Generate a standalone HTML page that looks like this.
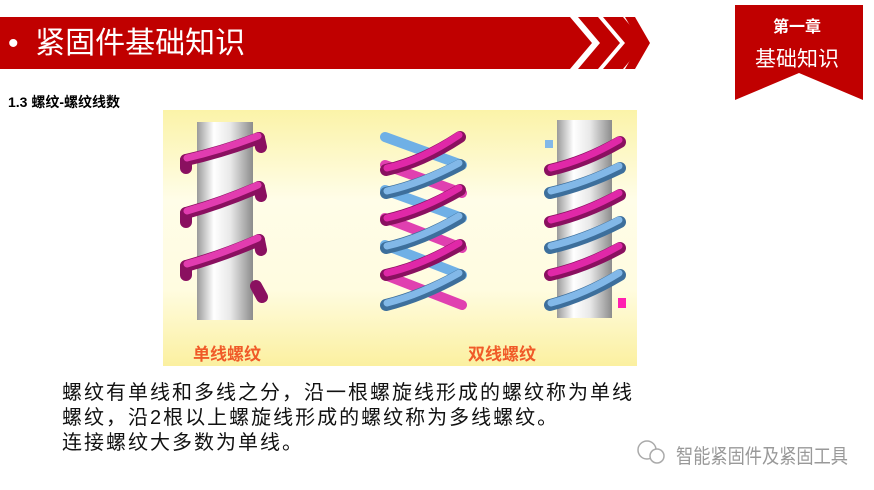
<!DOCTYPE html>
<html><head><meta charset="utf-8"><style>
body{margin:0;width:874px;height:490px;background:#fff;overflow:hidden;position:relative;font-family:"Liberation Sans","Noto Sans CJK SC",sans-serif}
.t{position:absolute;white-space:nowrap}
</style></head><body>
<svg width="874" height="490" style="position:absolute;left:0;top:0">
<defs>
<linearGradient id="bg" x1="0" y1="0" x2="0" y2="1">
<stop offset="0" stop-color="#fbf3a8"/><stop offset="0.35" stop-color="#fffde8"/><stop offset="0.7" stop-color="#fffce0"/><stop offset="1" stop-color="#fbf0a0"/></linearGradient>
<linearGradient id="cyl" x1="0" y1="0" x2="1" y2="0">
<stop offset="0" stop-color="#9a9a9a"/><stop offset="0.3" stop-color="#ffffff"/><stop offset="0.6" stop-color="#e8e8e8"/><stop offset="1" stop-color="#8c8c8c"/></linearGradient>
</defs>
<polygon points="0,17 570,17 592,43 570,69 0,69" fill="#c00000"/>
<polygon points="578,17 598,17 620,43 598,69 578,69 600,43" fill="#c00000"/>
<polygon points="603,17 623,17 645,43 623,69 603,69 625,43" fill="#c00000"/>
<polygon points="625,17 635,17 650,43 635,69 625,69 640,43" fill="#c00000"/>
<polygon points="735,5 863,5 863,100 799,73 735,100" fill="#c00000"/>
<rect x="163" y="110" width="474" height="256" fill="url(#bg)"/>
<!-- single -->
<rect x="197" y="122" width="56" height="198" fill="url(#cyl)"/>
<g fill="none" stroke-linecap="round">
<g stroke="#8a1060" stroke-width="12">
<path d="M186 160 Q222 152 259 138"/><path d="M186 213 Q222 203 259 187"/><path d="M186 266 Q222 256 259 240"/><path d="M259 138 L261 147"/><path d="M259 187 L261 196"/><path d="M259 240 L261 250"/><path d="M186 160 L186 168"/><path d="M186 213 L186 222"/><path d="M186 266 L186 275"/><path d="M256 286 L262 297"/>
</g>
<g stroke="#e23cb0" stroke-width="7">
<path d="M187 158 Q222 150 258 136"/><path d="M187 211 Q222 201 258 185"/><path d="M187 264 Q222 254 258 238"/>
</g></g>
<!-- double -->
<g fill="none" stroke-width="10" stroke-linecap="round">
<g stroke="#6fb0e6"><path d="M385 137 L462 165"/><path d="M385 190 L462 218"/><path d="M385 245 L462 275"/></g>
<g stroke="#e040b0"><path d="M385 165 L462 193"/><path d="M385 218 L462 248"/><path d="M385 275 L462 305"/></g>
<g stroke="#3d6f9c" stroke-width="12"><path d="M386 193 Q422 185 460 165"/><path d="M386 248 Q422 240 460 218"/><path d="M386 305 Q422 296 460 275"/></g>
<g stroke="#82b8e8" stroke-width="7"><path d="M387 191 Q422 183 459 163"/><path d="M387 246 Q422 238 459 216"/><path d="M387 303 Q422 294 459 273"/></g>
<g stroke="#8a1060" stroke-width="12"><path d="M386 170 Q422 162 460 137"/><path d="M386 220 Q422 212 460 190"/><path d="M386 275 Q422 267 460 245"/></g>
<g stroke="#e028a8" stroke-width="7"><path d="M387 168 Q422 160 459 135"/><path d="M387 218 Q422 210 459 188"/><path d="M387 273 Q422 265 459 243"/></g>
</g>
<!-- third -->
<rect x="557" y="120" width="55" height="198" fill="url(#cyl)"/>
<g fill="none" stroke-linecap="round">
<g stroke="#3d6f9c" stroke-width="12"><path d="M550 193 Q585 185 620 168"/><path d="M550 248 Q585 240 620 222"/><path d="M550 305 Q585 296 620 275"/></g>
<g stroke="#82b8e8" stroke-width="7"><path d="M551 191 Q585 183 619 166"/><path d="M551 246 Q585 238 619 220"/><path d="M551 303 Q585 294 619 273"/></g>
<g stroke="#8a1060" stroke-width="12"><path d="M550 170 Q585 162 620 142"/><path d="M550 222 Q585 214 620 195"/><path d="M550 275 Q585 267 620 248"/></g>
<g stroke="#e028a8" stroke-width="7"><path d="M551 168 Q585 160 619 140"/><path d="M551 220 Q585 212 619 193"/><path d="M551 273 Q585 265 619 246"/></g>
</g>
<rect x="545" y="140" width="8" height="8" fill="#82b8e8"/>
<rect x="618" y="298" width="8" height="10" fill="#ff20b0"/>
<circle cx="647" cy="450" r="9" fill="none" stroke="#aaa" stroke-width="1.5"/>
<circle cx="657" cy="456" r="7" fill="#fff" stroke="#aaa" stroke-width="1.5"/>
</svg>
<div class="t" style="left:8px;top:22px;color:#fff;font-size:30px;line-height:44px">•&nbsp;&nbsp;紧固件基础知识</div>
<div class="t" style="left:773px;top:13px;color:#fff;font-size:16px;font-weight:bold">第一章</div>
<div class="t" style="left:755px;top:43px;color:#fff;font-size:21px">基础知识</div>
<div class="t" style="left:8px;top:92px;color:#000;font-size:14px;font-weight:bold">1.3 螺纹-螺纹线数</div>
<div class="t" style="left:193px;top:340px;color:#f05a28;font-size:17px;font-weight:bold">单线螺纹</div>
<div class="t" style="left:468px;top:340px;color:#f05a28;font-size:17px;font-weight:bold">双线螺纹</div>
<div class="t" style="left:62px;top:381px;color:#111;font-size:20px;line-height:25px;letter-spacing:2px">螺纹有单线和多线之分，沿一根螺旋线形成的螺纹称为单线<br>螺纹，沿2根以上螺旋线形成的螺纹称为多线螺纹。<br>连接螺纹大多数为单线。</div>
<div class="t" style="left:676px;top:440px;color:#999;font-size:20px;transform:scaleX(0.86);transform-origin:0 0">智能紧固件及紧固工具</div>
</body></html>
